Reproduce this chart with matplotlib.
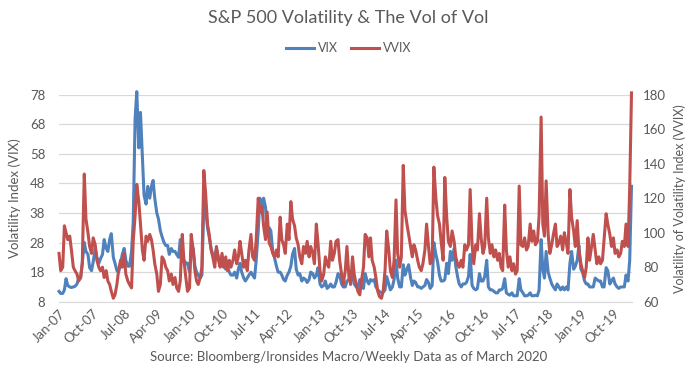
import matplotlib
matplotlib.use('Agg')
import matplotlib.pyplot as plt
import pandas as pd

plt.rcParams['font.family'] = ['Lato', 'DejaVu Sans']

# Odczyt z wykresu: dwa punkty na miesiąc (1. i 15. dzień), styczeń 2007 - marzec 2020
vix_2007 = [11.5, 10.8, 10.8, 12.0, 15.8, 13.5, 13.0, 12.8, 13.0, 13.2, 14.0, 16.0,
            16.0, 21.0, 28.0, 25.0, 24.0, 19.5, 18.5, 21.5, 26.0, 23.0, 21.0, 22.5]
vix_2008 = [24.0, 29.0, 26.0, 25.0, 29.0, 31.0, 23.0, 21.0, 18.5, 18.0, 21.0, 24.0,
            26.0, 22.0, 20.0, 20.0, 25.0, 35.0, 70.0, 79.0, 60.0, 72.0, 57.0, 44.0]
vix_2009 = [41.0, 47.0, 43.0, 47.0, 49.0, 43.0, 38.0, 36.0, 32.0, 30.0, 28.0, 27.0,
            27.0, 24.0, 26.0, 25.0, 25.0, 24.0, 23.0, 29.0, 24.0, 22.0, 21.0, 21.0]
vix_2010 = [18.0, 25.0, 26.0, 20.0, 18.0, 17.0, 16.0, 17.0, 41.0, 40.0, 33.0, 30.0,
            26.0, 24.0, 23.0, 26.0, 23.0, 22.0, 20.0, 20.0, 19.0, 20.0, 18.0, 17.0]
vix_2011 = [17.0, 18.0, 16.0, 19.0, 21.0, 18.0, 16.0, 15.0, 16.0, 17.0, 18.0, 17.0,
            16.0, 22.0, 32.0, 43.0, 38.0, 43.0, 40.0, 30.0, 33.0, 32.0, 25.0, 23.0]
vix_2012 = [20.0, 18.0, 18.0, 17.0, 15.5, 15.0, 17.0, 18.0, 20.0, 24.0, 26.0, 19.0,
            17.0, 17.5, 15.0, 16.0, 15.5, 14.5, 15.5, 18.0, 17.5, 16.0, 17.0, 19.5]
vix_2013 = [14.0, 13.0, 13.5, 15.0, 12.5, 13.0, 14.0, 13.0, 13.0, 14.5, 17.5, 17.0,
            14.0, 13.0, 13.0, 15.0, 15.5, 15.0, 17.5, 14.0, 13.0, 12.8, 15.5, 14.0]
vix_2014 = [12.5, 17.5, 15.0, 14.0, 15.5, 15.0, 15.5, 13.0, 12.0, 11.5, 11.0, 11.2,
            12.0, 16.5, 14.0, 12.0, 13.0, 15.5, 22.0, 16.0, 13.0, 13.0, 20.5, 17.0]
vix_2015 = [19.0, 20.5, 16.0, 13.5, 15.0, 14.5, 13.0, 13.0, 12.5, 13.0, 13.5, 15.5,
            14.5, 12.5, 13.5, 28.0, 24.0, 21.5, 17.0, 15.0, 15.0, 15.5, 21.0, 17.5]
vix_2016 = [25.0, 22.0, 26.0, 20.0, 16.5, 14.0, 13.0, 14.0, 14.0, 14.5, 16.5, 24.0,
            13.5, 12.5, 12.0, 12.5, 17.5, 15.0, 15.0, 16.5, 22.0, 13.0, 12.0, 12.0]
vix_2017 = [11.5, 11.0, 11.0, 12.0, 12.0, 12.5, 15.8, 11.0, 10.5, 10.2, 11.0, 10.0,
            10.0, 10.0, 15.8, 12.0, 11.0, 10.0, 10.0, 10.2, 11.0, 10.0, 10.0, 10.2]
vix_2018 = [10.0, 12.0, 29.0, 19.0, 16.0, 25.0, 18.0, 16.0, 14.0, 13.0, 12.0, 14.0,
            13.0, 12.0, 13.0, 12.0, 13.0, 12.0, 21.0, 25.0, 19.0, 20.0, 22.0, 27.0]
vix_2019 = [19.0, 18.0, 15.0, 14.0, 14.0, 13.0, 13.0, 13.0, 16.0, 15.5, 15.0, 15.0,
            13.0, 13.0, 19.5, 18.5, 14.0, 15.0, 16.0, 14.0, 13.0, 12.5, 13.0, 13.0]
vix_2020 = [13.0, 17.0, 15.0, 22.0, 47.0]

vvix_2007 = [88, 78, 80, 104, 100, 96, 98, 90, 80, 78, 76, 72,
             74, 82, 134, 108, 100, 92, 88, 97, 93, 84, 80, 78]
vvix_2008 = [80, 74, 78, 72, 70, 66, 62, 64, 70, 78, 84, 80,
             88, 76, 72, 70, 68, 95, 110, 128, 118, 105, 90, 84]
vvix_2009 = [98, 95, 99, 96, 90, 82, 76, 66, 70, 86, 84, 80,
             78, 72, 76, 70, 74, 68, 66, 72, 99, 84, 74, 66]
vvix_2010 = [68, 99, 90, 78, 72, 70, 74, 80, 136, 124, 105, 99,
             90, 86, 80, 92, 84, 80, 88, 80, 86, 78, 84, 80]
vvix_2011 = [84, 90, 82, 86, 95, 88, 80, 84, 78, 90, 99, 86,
             84, 96, 120, 112, 115, 104, 96, 112, 94, 92, 88, 86]
vvix_2012 = [90, 86, 109, 96, 93, 88, 105, 96, 118, 108, 104, 97,
             93, 86, 82, 92, 88, 95, 86, 92, 88, 82, 105, 94]
vvix_2013 = [78, 72, 76, 86, 82, 80, 95, 84, 88, 95, 96, 84,
             76, 70, 78, 92, 74, 70, 86, 76, 70, 66, 64, 72]
vvix_2014 = [80, 99, 97, 86, 97, 84, 80, 74, 66, 63, 62, 66,
             78, 101, 90, 78, 74, 84, 119, 88, 80, 86, 139, 113]
vvix_2015 = [105, 99, 92, 86, 93, 90, 84, 80, 78, 82, 90, 105,
             92, 82, 84, 138, 120, 110, 105, 95, 84, 132, 109, 95]
vvix_2016 = [92, 101, 95, 86, 82, 80, 84, 80, 93, 90, 93, 125,
             93, 82, 93, 90, 111, 97, 88, 92, 120, 97, 88, 93]
vvix_2017 = [86, 90, 84, 88, 80, 78, 116, 90, 80, 86, 78, 82,
             76, 78, 127, 93, 92, 97, 90, 92, 105, 95, 101, 93]
vvix_2018 = [95, 110, 167, 105, 98, 130, 99, 88, 93, 99, 105, 92,
             94, 98, 90, 100, 94, 88, 125, 109, 101, 92, 107, 90]
vvix_2019 = [82, 78, 74, 80, 97, 84, 92, 99, 90, 82, 86, 82,
             84, 96, 111, 105, 99, 92, 97, 88, 90, 86, 88, 95]
vvix_2020 = [92, 105, 92, 126, 181]

vix = (vix_2007 + vix_2008 + vix_2009 + vix_2010 + vix_2011 + vix_2012 + vix_2013 +
       vix_2014 + vix_2015 + vix_2016 + vix_2017 + vix_2018 + vix_2019 + vix_2020)
vvix = (vvix_2007 + vvix_2008 + vvix_2009 + vvix_2010 + vvix_2011 + vvix_2012 + vvix_2013 +
        vvix_2014 + vvix_2015 + vvix_2016 + vvix_2017 + vvix_2018 + vvix_2019 + vvix_2020)

vix_dates = pd.date_range('2007-01-01', periods=len(vix), freq='SMS')
vvix_dates = pd.date_range('2007-01-01', periods=len(vvix), freq='SMS')
tick_dates = pd.date_range('2007-01-01', '2019-10-01', freq='9MS')

grey = '#595959'
blue = '#4F81BD'
red = '#C0504D'

fig = plt.figure(figsize=(6.97, 3.8), dpi=100)
ax = fig.add_axes([0.0847, 0.206, 0.822, 0.545])
ax2 = ax.twinx()

l1, = ax.plot(vix_dates, vix, color=blue, lw=2.2, clip_on=False, solid_joinstyle='round')
l2, = ax2.plot(vvix_dates, vvix, color=red, lw=2.2, clip_on=False, solid_joinstyle='round')

ax.set_ylim(8, 78)
ax.set_yticks(range(8, 79, 10))
ax2.set_ylim(60, 180)
ax2.set_yticks(range(60, 181, 20))
ax.set_xlim(pd.Timestamp('2007-01-01'), pd.Timestamp('2020-03-05'))
ax.set_xticks(tick_dates)
ax.set_xticklabels([d.strftime('%b-%y') for d in tick_dates], rotation=45,
                   ha='right', rotation_mode='anchor')

ax.grid(axis='y', color='#D9D9D9', lw=0.9)
ax.set_axisbelow(True)
for a in (ax, ax2):
    for s in a.spines.values():
        s.set_visible(False)
    a.tick_params(length=0, colors=grey, labelsize=9.5)
ax.spines['bottom'].set_visible(True)
ax.spines['bottom'].set_color('#D9D9D9')
ax.tick_params(axis='y', pad=10)
ax2.tick_params(axis='y', pad=8)
ax.tick_params(axis='x', pad=4)

ax.set_ylabel('Volatility Index (VIX)', color=grey, fontsize=9.5, labelpad=6)
ax2.set_ylabel('Volatility of Volatility Index (VVIX)', color=grey, fontsize=9, labelpad=5)

fig.text(0.5, 1 - 18 / 380, 'S&P 500 Volatility & The Vol of Vol', ha='center', va='center',
         fontsize=13, color=grey)
fig.legend([l1, l2], ['VIX', 'VVIX'], loc='center', bbox_to_anchor=(0.5, 1 - 48 / 380),
           ncol=2, frameon=False, fontsize=9, handlelength=2.3, columnspacing=1.0,
           handletextpad=0.3, labelcolor=grey)
fig.text(0.5, 1 - 357 / 380, 'Source: Bloomberg/Ironsides Macro/Weekly Data as of March 2020',
         ha='center', va='center', fontsize=9.5, color=grey)

fig.savefig('out.png', dpi=100)
